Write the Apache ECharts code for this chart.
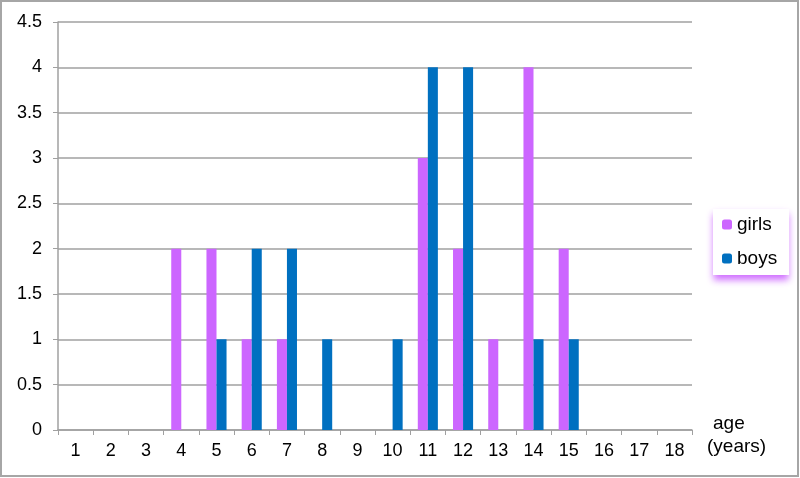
<!DOCTYPE html>
<html><head><meta charset="utf-8">
<script src="https://cdn.jsdelivr.net/npm/echarts@6/dist/echarts.min.js"></script>
<style>html,body{margin:0;padding:0;background:#fff}#c{width:800px;height:478px}</style>
</head><body><div id="c"></div>
<script>
const categories = ['1','2','3','4','5','6','7','8','9','10','11','12','13','14','15','16','17','18'];
const girls = [0,0,0,2,2,1,1,0,0,0,3,2,1,4,2,0,0,0];
const boys  = [0,0,0,0,1,2,2,1,0,1,4,4,0,1,1,0,0,0];
const yTicks = {min:0, max:4.5, interval:0.5};

const chart = echarts.init(document.getElementById('c'));
const font = '"Liberation Sans", Arial, sans-serif';
chart.setOption({
  animation:false,
  textStyle:{fontFamily:font},
  grid:{left:58, right:108, top:22, bottom:48},
  graphic:[
    {type:'rect', shape:{x:1,y:1,width:797,height:475}, style:{fill:'none', stroke:'#a6a6a6', lineWidth:2}, z:-1},
    {type:'text', left:713, top:414, style:{text:'age', font:'19px '+font, fill:'#000'}},
    {type:'text', left:707, top:437, style:{text:'(years)', font:'19px '+font, fill:'#000'}}
  ],
  legend:{
    orient:'vertical', left:713, top:209, padding:[6,12,7,9],
    itemWidth:10, itemHeight:10, itemGap:15,
    backgroundColor:'#fff', shadowColor:'rgba(204,102,255,0.95)', shadowBlur:7, shadowOffsetY:5,
    textStyle:{fontSize:19, color:'#000', fontFamily:font},
    data:['girls','boys']
  },
  xAxis:{
    type:'category', data:categories,
    axisLine:{lineStyle:{color:'#a0a0a0', width:1.5}},
    axisTick:{show:true, length:5, lineStyle:{color:'#a0a0a0'}},
    axisLabel:{fontSize:18, color:'#000', margin:12, fontFamily:font}
  },
  yAxis:{
    type:'value', min:yTicks.min, max:yTicks.max, interval:yTicks.interval,
    axisLine:{show:true, lineStyle:{color:'#a0a0a0', width:1.5}},
    axisTick:{show:true, length:5, lineStyle:{color:'#a0a0a0'}},
    splitLine:{lineStyle:{color:'#a0a0a0', width:1.5}},
    axisLabel:{fontSize:18, color:'#000', margin:16, fontFamily:font}
  },
  series:[
    {name:'girls', type:'bar', data:girls, itemStyle:{color:'#cc66ff'}, barGap:'0%', barCategoryGap:'43%'},
    {name:'boys', type:'bar', data:boys, itemStyle:{color:'#0070c0'}, barGap:'0%', barCategoryGap:'43%'}
  ]
});
</script></body></html>
